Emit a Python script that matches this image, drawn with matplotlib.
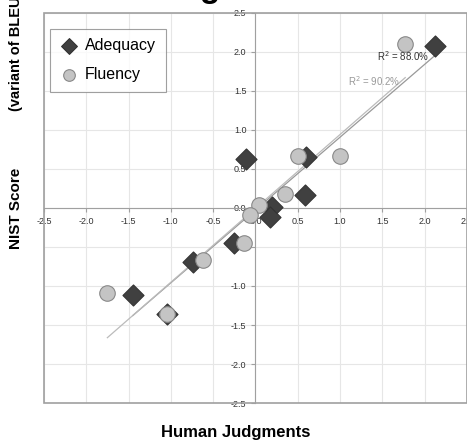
import numpy as np
import matplotlib
matplotlib.use('Agg')
import matplotlib.pyplot as plt
from matplotlib.patches import Rectangle

plt.rcParams['font.family'] = ['Liberation Sans', 'DejaVu Sans']

# values
adequacy_x = [2.12, -0.11, 0.60, 0.58, 0.20, 0.17, -0.25, -0.74, -1.45, -1.04]
adequacy_y = [2.08, 0.63, 0.65, 0.17, 0.01, -0.12, -0.45, -0.69, -1.11, -1.36]
fluency_x = [1.77, 0.50, 1.00, 0.35, 0.04, -0.06, -0.13, -0.62, -1.75, -1.05]
fluency_y = [2.10, 0.67, 0.66, 0.18, 0.04, -0.09, -0.45, -0.67, -1.09, -1.36]
r2_labels = ['R$^2$ = 88.0%', 'R$^2$ = 90.2%']
ticks = [-2.5, -2.0, -1.5, -1.0, -0.5, 0.0, 0.5, 1.0, 1.5, 2.0, 2.5]

fig = plt.figure(figsize=(4.67, 4.41), dpi=100)
ax = fig.add_axes([0.094, 0.086, 0.906, 0.885])
ax.set_xlim(-2.5, 2.5)
ax.set_ylim(-2.5, 2.5)

ax.set_xticks(ticks)
ax.set_yticks(ticks)
ax.set_xticklabels(['%.1f' % t for t in ticks])
ax.set_yticklabels(['%.1f' % t for t in ticks])
ax.grid(True, color='#e6e6e6', linewidth=0.8)
ax.set_axisbelow(True)

# axes cross at zero, outer frame drawn separately
for s in ['top', 'right']:
    ax.spines[s].set_visible(False)
ax.spines['left'].set_position('zero')
ax.spines['bottom'].set_position('zero')
ax.spines['left'].set_color('#a0a0a0')
ax.spines['bottom'].set_color('#a0a0a0')
ax.tick_params(colors='#a0a0a0', labelcolor='#333333', labelsize=6.5, length=3, width=0.8)
ax.add_patch(Rectangle((0, 0), 1, 1, transform=ax.transAxes, fill=False,
                       edgecolor='#a0a0a0', linewidth=1.2, clip_on=False, zorder=1))

# trend lines
for xs, ys, col in [(adequacy_x, adequacy_y, '#999999'), (fluency_x, fluency_y, '#bbbbbb')]:
    k, b = np.polyfit(xs, ys, 1)
    xx = np.array([min(xs), max(xs)])
    ax.plot(xx, k * xx + b, color=col, linewidth=0.9, zorder=2)

ax.scatter(adequacy_x, adequacy_y, marker='D', s=115, color='#404040',
           edgecolor='#333333', linewidth=0.8, zorder=3, label='Adequacy')
ax.scatter(fluency_x, fluency_y, marker='o', s=125, color='#c4c4c4',
           edgecolor='#888888', linewidth=0.8, zorder=3, label='Fluency')

ax.text(1.44, 1.94, r2_labels[0], fontsize=7, color='#333333', va='center')
ax.text(1.09, 1.63, r2_labels[1], fontsize=7, color='#999999', va='center')

leg = ax.legend(loc='upper left', bbox_to_anchor=(0.014, 0.959), borderaxespad=0,
                fontsize=11.5, frameon=True, fancybox=False, edgecolor='#888888',
                handletextpad=0.4, labelspacing=0.85, borderpad=0.6,
                handlelength=1.2, markerscale=0.75)
leg.get_frame().set_linewidth(0.8)

fig.text(0.505, 0.02, 'Human Judgments', ha='center', va='center',
         fontsize=12, fontweight='black', color='black')
fig.text(0.035, 0.528, 'NIST Score', rotation=90, ha='center', va='center',
         fontsize=11, fontweight='black', color='black')
fig.text(0.035, 0.884, '(variant of BLEU)', rotation=90, ha='center', va='center',
         fontsize=10.5, fontweight='bold', color='black')
fig.text(0.472, 1.006, 'Scoring', ha='right', va='baseline',
         fontsize=24, fontweight='black', color='black')

fig.savefig('out.png', dpi=100)
